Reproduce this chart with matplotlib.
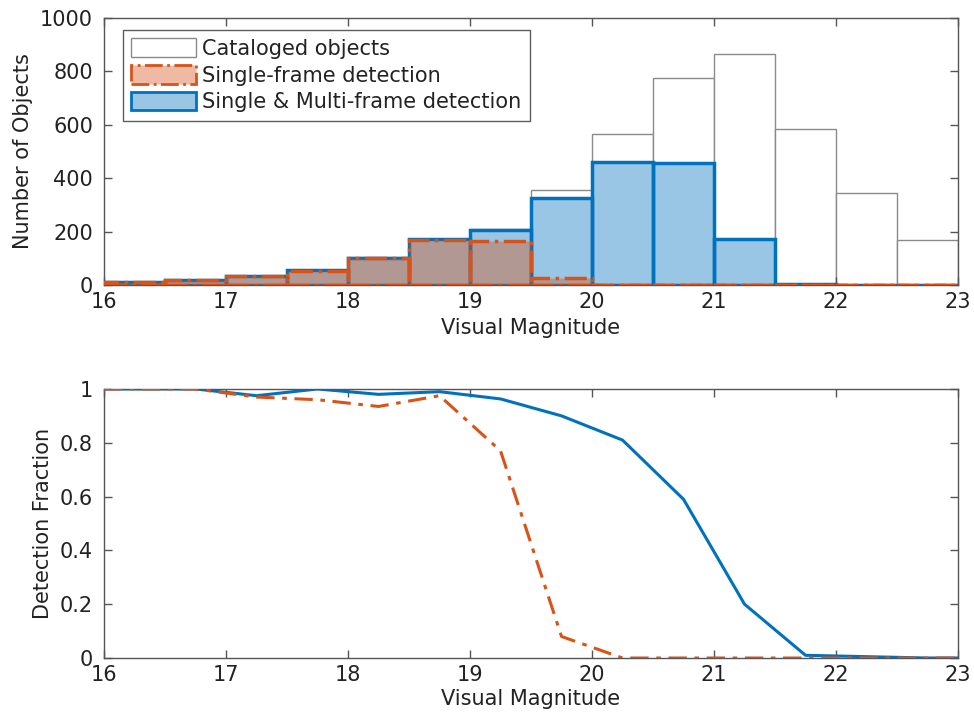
import matplotlib

matplotlib.use("Agg")
import matplotlib.pyplot as plt
import numpy as np
from matplotlib.patches import Patch

# histogram bins (visual magnitude), width 0.5
BIN_EDGES = [16.0, 16.5, 17.0, 17.5, 18.0, 18.5, 19.0, 19.5, 20.0, 20.5, 21.0, 21.5, 22.0, 22.5, 23.0]
CATALOGED = [12, 18, 35, 55, 105, 172, 210, 356, 566, 775, 865, 584, 345, 169]
MULTI_FRAME = [12, 18, 35, 55, 103, 172, 206, 326, 460, 458, 172, 5, 0, 0]
SINGLE_FRAME = [12, 18, 34, 53, 100, 168, 163, 26, 0, 0, 0, 0, 0, 0]

# detection fraction curve
FRAC_MAG = [16.0, 16.25, 16.75, 17.25, 17.75, 18.25, 18.75, 19.25, 19.75, 20.25,
            20.75, 21.25, 21.75, 22.25, 22.75, 23.0]
FRAC_MULTI = [1.0, 1.0, 1.0, 0.975, 1.0, 0.98, 0.99, 0.963, 0.90, 0.81,
              0.59, 0.20, 0.01, 0.005, 0.0, 0.0]
FRAC_SINGLE = [1.0, 1.0, 1.0, 0.97, 0.96, 0.935, 0.975, 0.77, 0.08, 0.0,
               0.0, 0.0, 0.0, 0.0, 0.0, 0.0]

BLUE = "#0072BD"
ORANGE = "#D95319"
AXIS_GRAY = "#555555"
TEXT_COLOR = "#222222"
LABEL_SIZE = 15

plt.rcParams["font.family"] = ["DejaVu Sans"]


def style_axes(ax):
    for spine in ax.spines.values():
        spine.set_color(AXIS_GRAY)
        spine.set_linewidth(1.0)
    ax.tick_params(direction="in", top=True, right=True, length=6, width=1.0,
                   color=AXIS_GRAY, labelsize=15, labelcolor=TEXT_COLOR)
    ax.tick_params(axis="x", pad=5)
    ax.tick_params(axis="y", pad=8)
    ax.set_xlim(16, 23)
    ax.set_xticks(range(16, 24))


fig = plt.figure(figsize=(9.74, 7.23), dpi=100)
ax1 = fig.add_axes([0.1068, 0.6058, 0.8768, 0.3693])
ax2 = fig.add_axes([0.1068, 0.0899, 0.8768, 0.3721])

edges = np.array(BIN_EDGES)
left = edges[:-1]
width = np.diff(edges)

ax1.bar(left, CATALOGED, width=width, align="edge", facecolor="white",
        edgecolor="#8a8a8a", linewidth=1.0, zorder=1)
ax1.bar(left, MULTI_FRAME, width=width, align="edge", facecolor=(0, 114 / 255, 189 / 255, 0.4),
        edgecolor=BLUE, linewidth=2.5, zorder=2)
ax1.bar(left, SINGLE_FRAME, width=width, align="edge", facecolor=(217 / 255, 83 / 255, 25 / 255, 0.4),
        edgecolor=ORANGE, linewidth=2.5, linestyle="-.", zorder=3)

ax1.set_ylim(0, 1000)
ax1.set_yticks(range(0, 1001, 200))
style_axes(ax1)
ax1.set_xlabel("Visual Magnitude", fontsize=LABEL_SIZE, labelpad=4, color=TEXT_COLOR)
ax1.set_ylabel("Number of Objects", fontsize=LABEL_SIZE, labelpad=5, color=TEXT_COLOR)

handles = [
    Patch(facecolor="white", edgecolor="#8a8a8a", linewidth=1.0),
    Patch(facecolor=(217 / 255, 83 / 255, 25 / 255, 0.4), edgecolor=ORANGE, linewidth=2.0, linestyle="-."),
    Patch(facecolor=(0, 114 / 255, 189 / 255, 0.4), edgecolor=BLUE, linewidth=2.0),
]
labels = ["Cataloged objects", "Single-frame detection", "Single & Multi-frame detection"]
leg = ax1.legend(handles, labels, loc="upper left", bbox_to_anchor=(0.022, 0.955),
                 fontsize=LABEL_SIZE, frameon=True, fancybox=False,
                 edgecolor="#333333", handlelength=3.1, handleheight=1.0, handletextpad=0.3,
                 labelspacing=0.3, borderpad=0.4, borderaxespad=0.0)
leg.get_frame().set_linewidth(1.0)
for txt in leg.get_texts():
    txt.set_color(TEXT_COLOR)

ax2.plot(FRAC_MAG, FRAC_MULTI, color=BLUE, linewidth=2.2, zorder=2)
ax2.plot(FRAC_MAG, FRAC_SINGLE, color=ORANGE, linewidth=2.2, linestyle=(0, (6, 2.5, 1.5, 2.5)), zorder=3)
ax2.set_ylim(0, 1)
ax2.set_yticks([0, 0.2, 0.4, 0.6, 0.8, 1])
ax2.set_yticklabels(["0", "0.2", "0.4", "0.6", "0.8", "1"])
style_axes(ax2)
ax2.set_xlabel("Visual Magnitude", fontsize=LABEL_SIZE, labelpad=3, color=TEXT_COLOR)
ax2.set_ylabel("Detection Fraction", fontsize=LABEL_SIZE, labelpad=5, color=TEXT_COLOR)

fig.savefig("out.png", dpi=100, facecolor="white")
plt.close(fig)
